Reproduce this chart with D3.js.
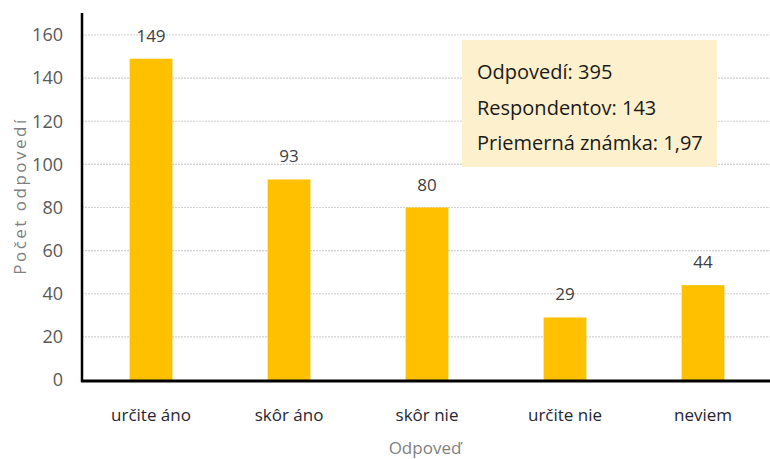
<!DOCTYPE html>
<html lang="sk">
<head>
<meta charset="utf-8">
<title>Odpovede</title>
<script src="https://d3js.org/d3.v7.min.js"></script>
<style>
  body { margin: 0; background: #fff; }
  svg text { font-family: "Open Sans", sans-serif; }
</style>
</head>
<body>
<div id="chart"></div>
<script>
const categories = ["určite áno", "skôr áno", "skôr nie", "určite nie", "neviem"];
const counts = [149, 93, 80, 29, 44];
const yTicks = [0, 20, 40, 60, 80, 100, 120, 140, 160];
const infoLines = ["Odpovedí: 395", "Respondentov: 143", "Priemerná známka: 1,97"];

const width = 770, height = 459;
const plotLeft = 82, plotRight = 772, plotTop = 35, plotBottom = 380;

const svg = d3.select("#chart").append("svg")
  .attr("width", width).attr("height", height);

const x = d3.scaleBand().domain(categories).range([plotLeft, plotRight])
  .paddingInner(0.69).paddingOuter(0.345);
const y = d3.scaleLinear().domain([0, 160]).range([plotBottom, plotTop]);

// gridlines
svg.append("g").selectAll("line").data(yTicks.filter(d => d > 0)).enter()
  .append("line")
  .attr("x1", plotLeft).attr("x2", width)
  .attr("y1", d => y(d)).attr("y2", d => y(d))
  .attr("stroke", "#d0d0d0").attr("stroke-width", 1.2)
  .attr("stroke-dasharray", "2,1");

// y tick labels
const yAxis = d3.axisLeft(y).tickValues(yTicks).tickSize(0).tickPadding(19);
const gy = svg.append("g").attr("transform", `translate(${plotLeft},0)`).call(yAxis);
gy.select(".domain").remove();
gy.selectAll("text").attr("font-size", 18).attr("fill", "#595959")
  .style("font-family", '"Open Sans", sans-serif');

// bars
svg.append("g").selectAll("rect").data(counts).enter()
  .append("rect")
  .attr("x", (d, i) => x(categories[i]))
  .attr("y", d => y(d))
  .attr("width", x.bandwidth())
  .attr("height", d => plotBottom - y(d))
  .attr("fill", "#ffc000");

// value labels
svg.append("g").selectAll("text").data(counts).enter()
  .append("text")
  .attr("x", (d, i) => x(categories[i]) + x.bandwidth() / 2)
  .attr("y", d => y(d) - 17)
  .attr("text-anchor", "middle")
  .attr("font-size", 17).attr("fill", "#404040")
  .text(d => d);

// axes lines
svg.append("line").attr("x1", plotLeft).attr("x2", plotLeft).attr("y1", 13).attr("y2", 382)
  .attr("stroke", "#000").attr("stroke-width", 2.5);
svg.append("line").attr("x1", plotLeft - 1).attr("x2", width).attr("y1", 381).attr("y2", 381)
  .attr("stroke", "#000").attr("stroke-width", 3);

// x labels
const xAxis = d3.axisBottom(x).tickSize(0).tickPadding(0);
const gx = svg.append("g").attr("transform", "translate(0,421)").call(xAxis);
gx.select(".domain").remove();
gx.selectAll("text").attr("font-size", 17).attr("fill", "#262633").attr("dy", 0)
  .style("font-family", '"Open Sans", sans-serif');

// axis titles
svg.append("text").attr("x", 425).attr("y", 454).attr("text-anchor", "middle")
  .attr("font-size", 17).attr("fill", "#7f7f7f").text("Odpoveď");
svg.append("text").attr("transform", "translate(26,196) rotate(-90)")
  .attr("text-anchor", "middle").attr("font-size", 17).attr("letter-spacing", 2.5)
  .attr("fill", "#7f7f7f").text("Počet odpovedí");

// info box
svg.append("rect").attr("x", 462).attr("y", 40).attr("width", 255).attr("height", 127)
  .attr("fill", "#fdf0cc");
svg.append("g").selectAll("text").data(infoLines).enter()
  .append("text")
  .attr("x", 477).attr("y", (d, i) => 79 + i * 35.5)
  .attr("font-size", 20).attr("fill", "#1a1a1a")
  .text(d => d);
</script>
</body>
</html>
